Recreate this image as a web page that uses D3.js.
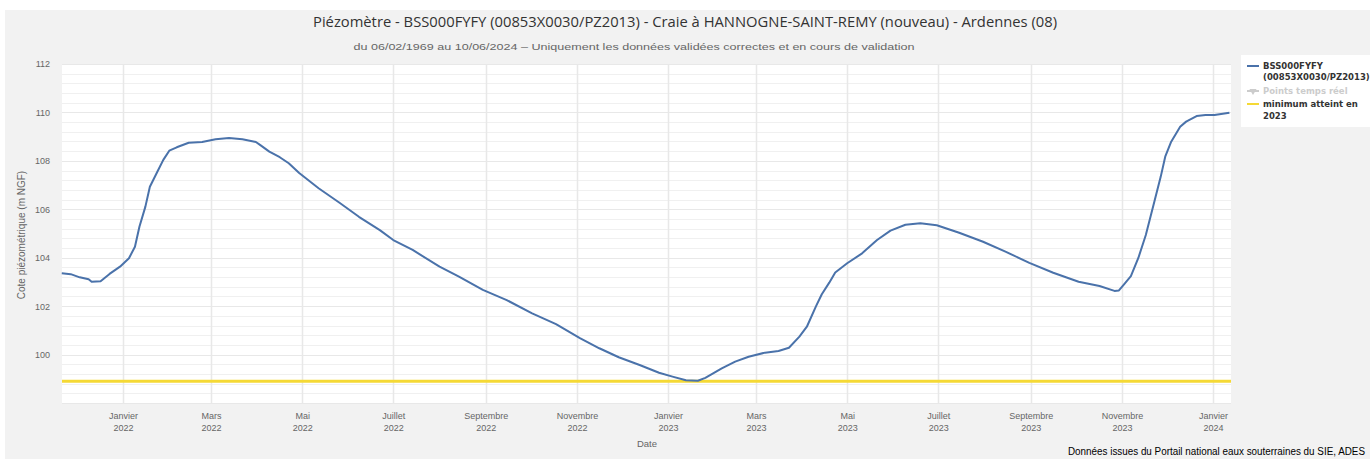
<!DOCTYPE html>
<html><head><meta charset="utf-8">
<script src="https://cdn.jsdelivr.net/npm/d3@7"></script>
<style>
html,body{margin:0;padding:0;background:#fff;overflow:hidden}
svg{display:block}
</style></head>
<body>
<svg id="c" width="1370" height="459"></svg>
<script>
// ---- data ----
const dates = ["2021-11-21","2021-11-27","2021-12-03","2021-12-09","2021-12-11","2021-12-17","2021-12-23","2021-12-30",
"2022-01-05","2022-01-09","2022-01-12","2022-01-16","2022-01-19","2022-01-24","2022-01-28","2022-02-01","2022-02-06",
"2022-02-14","2022-02-23","2022-03-04","2022-03-13","2022-03-22","2022-03-31","2022-04-03","2022-04-09","2022-04-16",
"2022-04-22","2022-04-29","2022-05-12","2022-05-26","2022-06-08","2022-06-22","2022-07-01","2022-07-14","2022-08-01",
"2022-08-14","2022-08-30","2022-09-15","2022-10-02","2022-10-18","2022-11-03","2022-11-16","2022-11-29","2022-12-13",
"2022-12-26","2023-01-04","2023-01-13","2023-01-21","2023-01-26","2023-02-06","2023-02-15","2023-02-24","2023-03-07",
"2023-03-16","2023-03-23","2023-03-30","2023-04-04","2023-04-10","2023-04-14","2023-04-19","2023-04-23","2023-05-01",
"2023-05-11","2023-05-21","2023-05-30","2023-06-09","2023-06-19","2023-06-30","2023-07-15","2023-07-31","2023-08-15",
"2023-08-31","2023-09-16","2023-10-03","2023-10-17","2023-10-27","2023-10-30","2023-11-02","2023-11-07","2023-11-12",
"2023-11-17","2023-11-23","2023-11-27","2023-11-30","2023-12-04","2023-12-10","2023-12-14","2023-12-21","2023-12-27",
"2024-01-02","2024-01-12"];
const levels = [103.36,103.32,103.19,103.11,103.01,103.03,103.33,103.63,
103.98,104.45,105.28,106.11,106.93,107.55,108.04,108.42,108.56,
108.75,108.78,108.89,108.94,108.89,108.78,108.65,108.38,108.15,
107.90,107.50,106.87,106.27,105.69,105.14,104.73,104.32,103.63,
103.22,102.67,102.25,101.70,101.26,100.68,100.26,99.89,99.57,
99.25,99.09,98.94,98.92,99.04,99.43,99.71,99.91,100.08,
100.15,100.28,100.74,101.15,101.98,102.49,102.97,103.39,103.77,
104.18,104.73,105.12,105.36,105.42,105.34,105.03,104.66,104.25,
103.79,103.38,103.01,102.83,102.63,102.65,102.87,103.24,103.99,
104.94,106.38,107.35,108.17,108.79,109.41,109.62,109.85,109.89,
109.89,109.99];
const minimumLevel = 98.9;
const yTicks = [100,102,104,106,108,110,112];
const xTickDates = ["2022-01-01","2022-03-01","2022-05-01","2022-07-01","2022-09-01","2022-11-01","2023-01-01",
"2023-03-01","2023-05-01","2023-07-01","2023-09-01","2023-11-01","2024-01-01"];
const xTickMonths = ["Janvier","Mars","Mai","Juillet","Septembre","Novembre","Janvier","Mars","Mai","Juillet","Septembre","Novembre","Janvier"];
const xTickYears = ["2022","2022","2022","2022","2022","2022","2023","2023","2023","2023","2023","2023","2024"];
const titleText = "Piézomètre - BSS000FYFY (00853X0030/PZ2013) - Craie à HANNOGNE-SAINT-REMY (nouveau) - Ardennes (08)";
const subtitleText = "du 06/02/1969 au 10/06/2024 – Uniquement les données validées correctes et en cours de validation";
const yTitle = "Cote piézométrique (m NGF)";
const xTitle = "Date";
const creditText = "Données issues du Portail national eaux souterraines du SIE, ADES";
const legendSeries = ["BSS000FYFY", "(00853X0030/PZ2013)"];
const legendRealtime = "Points temps réel";
const legendMin = ["minimum atteint en", "2023"];

// ---- chart ----
const svg = d3.select("#c");
const parse = d3.utcParse("%Y-%m-%d");
const data = dates.map((d,i)=>({date:parse(d), v:levels[i]}));
const L=62, R=1231, T=64, B=403;
const x = d3.scaleUtc().domain([new Date(Date.UTC(2021,10,21,3,36)), new Date(Date.UTC(2024,0,13,1,12))]).range([L,R]);
const y = d3.scaleLinear().domain([98,112]).range([B,T]);
const font = "'Liberation Sans Narrow','Liberation Sans',Arial,sans-serif";

svg.append("rect").attr("x",5).attr("y",10).attr("width",1365).attr("height",449).attr("fill","#f2f2f2");
svg.append("rect").attr("x",L).attr("y",T).attr("width",R-L).attr("height",B-T).attr("fill","#fff");

// minor grid
const minor = d3.range(98,112.001,0.4).map(v=>+v.toFixed(1));
svg.append("g").selectAll("line").data(minor).join("line")
  .attr("x1",L).attr("x2",R).attr("y1",d=>Math.round(y(d))+0.5).attr("y2",d=>Math.round(y(d))+0.5)
  .attr("stroke","#f0f0f0").attr("stroke-width",1);
// major grid
svg.append("g").selectAll("line").data(d3.range(98,112.001,2)).join("line")
  .attr("x1",L).attr("x2",R).attr("y1",d=>Math.round(y(d))+0.5).attr("y2",d=>Math.round(y(d))+0.5)
  .attr("stroke","#e8e8e8").attr("stroke-width",1);
// vertical grid
const xt = xTickDates.map(parse);
svg.append("g").selectAll("line").data(xt).join("line")
  .attr("x1",d=>Math.round(x(d))+0.5).attr("x2",d=>Math.round(x(d))+0.5).attr("y1",T).attr("y2",B)
  .attr("stroke","#e8e8e8").attr("stroke-width",1.5);

// y axis labels
const yAxis = d3.axisLeft(y).tickValues(yTicks).tickSize(0).tickPadding(0).tickFormat(d3.format("d"));
const ga = svg.append("g").attr("transform",`translate(50,0)`).call(yAxis);
ga.select(".domain").remove();
ga.selectAll("text").attr("fill","#666").attr("font-size","9px").attr("font-family",font).attr("dy","0.32em");

// x axis labels
const xAxis = d3.axisBottom(x).tickValues(xt).tickSize(0).tickFormat("");
const gx = svg.append("g").attr("transform",`translate(0,${B})`).call(xAxis);
gx.select(".domain").remove();
gx.selectAll(".tick").each(function(d,i){
  const t = d3.select(this).append("text").attr("fill","#666").attr("font-size","9px")
    .attr("font-family",font).attr("text-anchor","middle");
  t.append("tspan").attr("x",0).attr("y",16).text(xTickMonths[i]);
  t.append("tspan").attr("x",0).attr("y",28).text(xTickYears[i]);
});

// minimum line
svg.append("line").attr("x1",L).attr("x2",R).attr("y1",y(minimumLevel)).attr("y2",y(minimumLevel))
  .attr("stroke","#f5d935").attr("stroke-width",3);

// series line
svg.append("path").datum(data)
  .attr("d", d3.line().x(d=>x(d.date)).y(d=>y(d.v)))
  .attr("fill","none").attr("stroke","#4a72aa").attr("stroke-width",2).attr("stroke-linejoin","round");

// titles
svg.append("text").attr("x",685).attr("y",27).attr("text-anchor","middle").attr("font-family","'Open Sans',sans-serif")
  .attr("font-size","14px").attr("fill","#333").attr("textLength",744).attr("lengthAdjust","spacingAndGlyphs").text(titleText);
svg.append("text").attr("x",634).attr("y",50).attr("text-anchor","middle").attr("font-family",font)
  .attr("font-size","9.5px").attr("fill","#666").attr("textLength",561).attr("lengthAdjust","spacingAndGlyphs").text(subtitleText);
svg.append("text").attr("transform","translate(25,235) rotate(-90)").attr("text-anchor","middle").attr("font-family",font)
  .attr("font-size","10px").attr("fill","#666").text(yTitle);
svg.append("text").attr("x",647).attr("y",447).attr("text-anchor","middle").attr("font-family",font)
  .attr("font-size","9.5px").attr("fill","#666").text(xTitle);
svg.append("text").attr("x",1365).attr("y",455).attr("text-anchor","end").attr("font-family",font)
  .attr("font-size","10px").attr("fill","#000").attr("textLength",297).attr("lengthAdjust","spacingAndGlyphs").text(creditText);

// legend
const lg = svg.append("g");
lg.append("rect").attr("x",1241).attr("y",55).attr("width",140).attr("height",72).attr("fill","#fff");
lg.append("line").attr("x1",1247).attr("x2",1259).attr("y1",66).attr("y2",66).attr("stroke","#4a72aa").attr("stroke-width",2);
const lt = (yy, s, col) => lg.append("text").attr("x",1263).attr("y",yy).attr("font-family","'DejaVu Sans',sans-serif")
  .attr("font-size","8.5px").attr("font-weight","bold").attr("fill",col).text(s);
lt(69, legendSeries[0], "#333");
lt(80, legendSeries[1], "#333");
lg.append("line").attr("x1",1247).attr("x2",1259).attr("y1",91).attr("y2",91).attr("stroke","#ccc").attr("stroke-width",2);
lg.append("path").attr("d",d3.symbol(d3.symbolTriangle,22)).attr("transform","translate(1253,91) rotate(180)").attr("fill","#ccc");
lt(94, legendRealtime, "#ccc");
lg.append("line").attr("x1",1247).attr("x2",1259).attr("y1",104).attr("y2",104).attr("stroke","#f5d935").attr("stroke-width",2);
lt(107, legendMin[0], "#333");
lt(119, legendMin[1], "#333");
</script>
</body></html>
